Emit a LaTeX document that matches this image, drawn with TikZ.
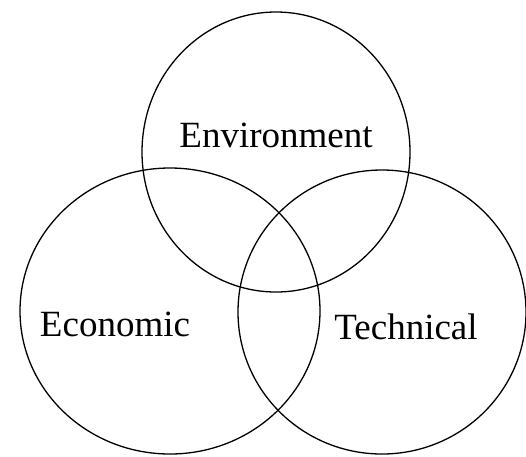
\documentclass[tikz,border=0pt]{standalone}
\usepackage{fontspec}
\setmainfont{Liberation Serif}
\usetikzlibrary{positioning}
\tikzset{ring/.style={draw=black, line width=1.3pt},
  setname/.style={font=\fontsize{37}{40}\selectfont}}

\begin{document}
\begin{tikzpicture}[x=1pt, y=-1pt]
  \useasboundingbox (0,0) rectangle (526,456);
  % the three overlapping sets
  \draw[ring] (276,152) ellipse [x radius=134, y radius=140];
  \draw[ring] (170,311) ellipse [x radius=150, y radius=143];
  \draw[ring] (382,312) ellipse [x radius=144, y radius=142];
  \node[setname] (env) at (276,135) {Environment};
  \node[setname] (eco) at (115,324) {Economic};
  \node[setname] (tech) at (406,327) {Technical};
\end{tikzpicture}
\end{document}
